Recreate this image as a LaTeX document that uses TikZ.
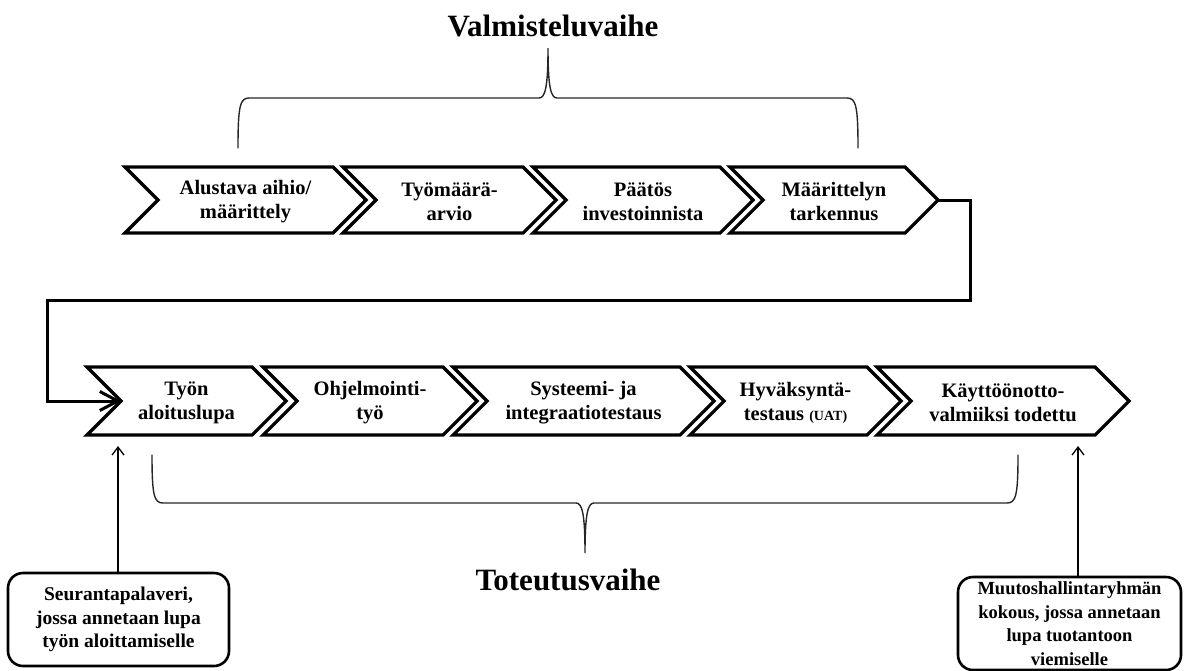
\documentclass[tikz,border=0pt]{standalone}
\usepackage{fontspec}
\setmainfont{Liberation Serif}
\usetikzlibrary{arrows.meta}

% #1 name, #2 left x, #3 right x (top corner), #4 top y, #5 bottom y, #6 point depth, #7 label
\newcommand\chevronstep[7]{%
  \draw[chevbox] (#2,#4) -- (#3,#4) -- ({#3+#6},{(#4+#5)/2}) -- (#3,#5)
    -- (#2,#5) -- ({#2+#6},{(#4+#5)/2}) -- cycle;
  \node[chevtext] (#1) at ({(#2+#3+#6)/2},{(#4+#5)/2+2}) {#7};
  \coordinate (#1-tip) at ({#3+#6},{(#4+#5)/2});
  \coordinate (#1-notch) at ({#2+#6},{(#4+#5)/2});
}

\tikzset{
  chevbox/.style={line width=3.2pt, line join=miter, fill=white},
  chevtext/.style={align=center, inner sep=0pt,
    font=\fontsize{20.5}{24}\selectfont\bfseries},
  phase/.style={font=\fontsize{31}{36}\selectfont\bfseries, inner sep=0pt},
  brace/.style={line width=1.4pt, black!85, line cap=round},
  flow/.style={line width=3pt, line join=miter,
    -{Straight Barb[length=18pt,width=19pt,line width=3pt]}},
  pointer/.style={line width=1.3pt,
    -{Straight Barb[length=8pt,width=12pt]}},
  notebox/.style={draw, line width=2.6pt, rounded corners=15pt, align=center,
    inner sep=0pt, font=\fontsize{19.5}{23.5}\selectfont\bfseries},
}

\begin{document}
\begin{tikzpicture}[x=1pt, y=-1pt]
\useasboundingbox (0,0) rectangle (1185,670);

% phase titles
\node[phase, anchor=base] (prep) at (553,36) {Valmisteluvaihe};
\node[phase, anchor=base] (impl) at (568,590) {Toteutusvaihe};

% brace over the preparation steps
\draw[brace] (238,148) .. controls (238,106) and (240,98) .. (249,98)
  -- (539,98) .. controls (545,98) and (548,88) .. (548,48)
  .. controls (548,88) and (551,98) .. (557,98)
  -- (847,98) .. controls (856,98) and (858,106) .. (858,148);

% brace under the implementation steps
\draw[brace] (152,455) .. controls (152,495) and (154,503) .. (163,503)
  -- (576,503) .. controls (582,503) and (585,513) .. (585,553)
  .. controls (585,513) and (588,503) .. (594,503)
  -- (1007,503) .. controls (1016,503) and (1018,495) .. (1018,455);

% preparation phase
\chevronstep{c1}{125}{333}{167}{233}{33}{Alustava aihio/\\määrittely}
\chevronstep{c2}{343}{523}{167}{233}{33}{Työmäärä-\\arvio}
\chevronstep{c3}{533}{720}{167}{233}{33}{Päätös\\investoinnista}
\chevronstep{c4}{730}{905}{167}{233}{33}{Määrittelyn\\tarkennus}

% implementation phase
\chevronstep{b1}{87}{252}{367}{435}{34}{Työn\\aloituslupa}
\chevronstep{b2}{263}{443}{367}{435}{34}{Ohjelmointi-\\työ}
\chevronstep{b3}{453}{680}{367}{435}{34}{Systeemi- ja\\integraatiotestaus}
\chevronstep{b4}{690}{867}{367}{435}{34}{Hyväksyntä-\\testaus {\fontsize{14}{16}\selectfont(UAT)}}
\chevronstep{b5}{877}{1095}{367}{435}{34}{Käyttöönotto-\\valmiiksi todettu}

% link from the end of preparation to the start of implementation
\coordinate (turnR) at (970,300);
\coordinate (turnL) at (47,300);
\draw[flow] (c4-tip) -| (turnR) -- (turnL) |- (b1-notch);

% decision meetings
\node[notebox, minimum width=221pt, minimum height=93pt] (startmeet) at (118.5,619.5)
  {Seurantapalaveri,\\jossa annetaan lupa\\työn aloittamiselle};
\node[notebox, minimum width=223pt, minimum height=93pt,
  font=\fontsize{18.5}{23.5}\selectfont\bfseries] (changemeet) at (1069.5,623.5)
  {Muutoshallintaryhmän\\kokous, jossa annetaan\\lupa tuotantoon\\viemiselle};

\coordinate (startmark) at (118,446);
\coordinate (prodmark) at (1078,446);
\draw[pointer] (startmark |- startmeet.north) -- (startmark);
\draw[pointer] (prodmark |- changemeet.north) -- (prodmark);
\end{tikzpicture}
\end{document}
